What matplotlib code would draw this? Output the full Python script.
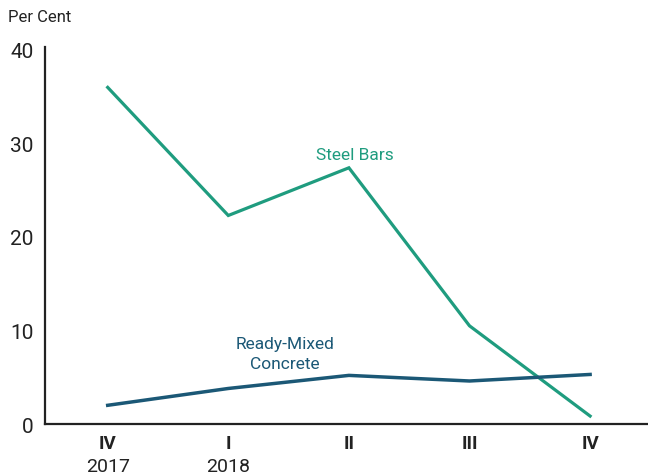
import matplotlib
matplotlib.use("Agg")
import matplotlib.pyplot as plt

quarters = ["IV", "I", "II", "III", "IV"]
years = ["2017", "2018", "", "", ""]
steel_bars = [36.0, 22.3, 27.4, 10.5, 0.85]
ready_mixed = [2.0, 3.8, 5.2, 4.6, 5.3]
y_ticks = [0, 10, 20, 30, 40]

STEEL = "#1f9c7f"
CONCRETE = "#1b5876"

plt.rcParams["font.family"] = ["Roboto", "DejaVu Sans"]

fig = plt.figure(figsize=(6.48, 4.77), dpi=100)
ax = fig.add_axes([0.0694, 0.109, 0.9306, 0.790])

x = list(range(len(quarters)))
ax.plot(x, steel_bars, color=STEEL, lw=2.3, solid_joinstyle="miter")
ax.plot(x, ready_mixed, color=CONCRETE, lw=2.5, solid_joinstyle="miter")

ax.set_xlim(-0.52, 4.48)
ax.set_ylim(0, 40.3)

for s in ("top", "right"):
    ax.spines[s].set_visible(False)
for s in ("left", "bottom"):
    ax.spines[s].set_linewidth(1.6)
    ax.spines[s].set_color("#222222")

ax.set_yticks(y_ticks)
ax.set_yticklabels([str(v) for v in y_ticks], fontsize=15, color="#222222")
ax.tick_params(axis="y", length=0, pad=8)

ax.set_xticks(x)
ax.set_xticklabels(quarters, fontsize=13.5, fontweight="bold", color="#222222")
ax.tick_params(axis="x", length=0, pad=7)
for xi, yr in zip(x, years):
    if yr:
        ax.annotate(yr, xy=(xi, 0), xycoords=("data", "axes fraction"),
                    xytext=(0, -30.5), textcoords="offset points",
                    ha="center", va="center", fontsize=14, color="#222222")

fig.text(8 / 648, 1 - 18 / 477, "Per Cent", fontsize=12, color="#222222",
         ha="left", va="center")

ax.text(2.05, 28.8, "Steel Bars", color=STEEL, fontsize=12.5, ha="center", va="center")
ax.text(1.47, 7.5, "Ready-Mixed\nConcrete", color=CONCRETE, fontsize=12.5,
        ha="center", va="center", linespacing=1.4)

fig.savefig("out.png", dpi=100)
